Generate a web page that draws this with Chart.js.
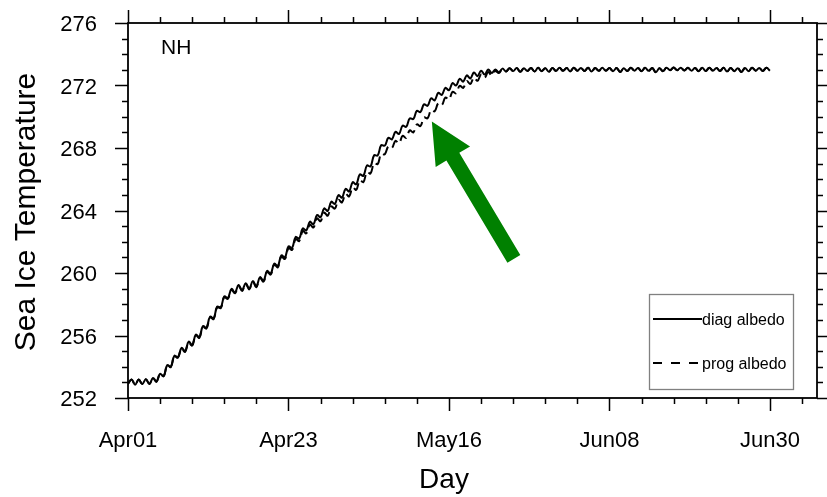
<!DOCTYPE html>
<html>
<head>
<meta charset="utf-8">
<script src="https://cdn.jsdelivr.net/npm/chart.js@4.4.0/dist/chart.umd.min.js"></script>
<style>
  html, body { margin: 0; padding: 0; background: #fff; }
  #wrap { width: 827px; height: 497px; }
</style>
</head>
<body>
<div id="wrap"><canvas id="c" width="827" height="497"></canvas></div>
<script>
// two samples per day (night / day), day 0 = Apr01
const STEP_DAYS = 0.5;

const diagAlbedo = [
  252.90, 253.18, 252.85, 253.18, 252.90, 253.20, 252.90, 253.28, 253.05, 253.55,
  253.40, 254.10, 254.00, 254.70, 254.60, 255.20, 255.00, 255.60, 255.40, 256.05,
  255.90, 256.60, 256.50, 257.20, 257.10, 257.85, 257.80, 258.50, 258.40, 258.98,
  258.75, 259.23, 258.90, 259.35, 259.00, 259.48, 259.15, 259.73, 259.50, 260.13,
  259.95, 260.60, 260.45, 261.13, 261.00, 261.70, 261.60, 262.30, 262.20, 262.85,
  262.72, 263.28, 263.12, 263.71, 263.57, 264.13, 263.97, 264.56, 264.42, 264.98,
  264.82, 265.38, 265.22, 265.81, 265.67, 266.31, 266.22, 266.88, 266.82, 267.53,
  267.52, 268.18, 268.15, 268.65, 268.55, 269.03, 268.90, 269.43, 269.35, 269.90,
  269.85, 270.38, 270.30, 270.80, 270.70, 271.18, 271.05, 271.53, 271.40, 271.85,
  271.70, 272.15, 272.00, 272.43, 272.25, 272.65, 272.45, 272.83, 272.60, 272.95,
  272.70, 273.03, 272.80, 273.03, 272.85, 273.08, 272.90, 273.10, 272.92, 273.12,
  272.88, 273.10, 272.93, 273.12, 272.90, 273.13, 272.92, 273.10, 272.88, 273.12,
  272.93, 273.13, 272.94, 273.12, 272.90, 273.14, 272.95, 273.12, 272.93, 273.13,
  272.90, 273.12, 272.94, 273.13, 272.95, 273.12, 272.92, 273.12, 272.86, 273.10,
  272.93, 273.13, 272.95, 273.12, 272.92, 273.13, 272.94, 273.12, 272.85, 273.10,
  272.92, 273.14, 272.97, 273.15, 272.98, 273.14, 272.96, 273.13, 272.95, 273.12,
  272.92, 273.13, 272.93, 273.14, 272.95, 273.12, 272.93, 273.13, 272.90, 273.12,
  272.92, 273.11, 272.86, 273.12, 272.92, 273.13, 272.95, 273.12, 272.93, 273.13,
  272.94
];

const progAlbedo = [
  252.90, 253.18, 252.85, 253.18, 252.90, 253.20, 252.90, 253.28, 253.05, 253.55,
  253.40, 254.08, 253.98, 254.68, 254.58, 255.17, 254.95, 255.55, 255.35, 256.00,
  255.85, 256.55, 256.45, 257.15, 257.05, 257.80, 257.75, 258.45, 258.35, 258.93,
  258.70, 259.18, 258.85, 259.30, 258.95, 259.43, 259.10, 259.68, 259.45, 260.08,
  259.90, 260.53, 260.37, 261.04, 260.90, 261.59, 261.48, 262.17, 262.05, 262.69,
  262.54, 263.09, 262.92, 263.49, 263.32, 263.86, 263.67, 264.26, 264.12, 264.68,
  264.52, 265.07, 264.90, 265.48, 265.32, 265.94, 265.82, 266.46, 266.37, 267.03,
  266.97, 267.63, 267.60, 268.10, 268.00, 268.46, 268.30, 268.78, 268.65, 269.13,
  269.00, 269.51, 269.40, 269.95, 269.90, 270.43, 270.35, 270.86, 270.75, 271.23,
  271.10, 271.60, 271.50, 271.98, 271.85, 272.28, 272.10, 272.51, 272.30, 272.70,
  272.50, 272.86, 272.65, 272.93, 272.80, 273.06, 272.90, 273.10, 272.92, 273.12,
  272.88, 273.10, 272.93, 273.12, 272.90, 273.13, 272.92, 273.10, 272.88, 273.12,
  272.93, 273.13, 272.94, 273.12, 272.90, 273.14, 272.95, 273.12, 272.93, 273.13,
  272.90, 273.12, 272.94, 273.13, 272.95, 273.12, 272.92, 273.12, 272.86, 273.10,
  272.93, 273.13, 272.95, 273.12, 272.92, 273.13, 272.94, 273.12, 272.85, 273.10,
  272.92, 273.14, 272.97, 273.15, 272.98, 273.14, 272.96, 273.13, 272.95, 273.12,
  272.92, 273.13, 272.93, 273.14, 272.95, 273.12, 272.93, 273.13, 272.90, 273.12,
  272.92, 273.11, 272.86, 273.12, 272.92, 273.13, 272.95, 273.12, 272.93, 273.13,
  272.94
];

const seriesNames = ['diag albedo', 'prog albedo'];
const xTickDays = [0, 22.5, 45, 67.5, 90];
const xTickLabels = ['Apr01', 'Apr23', 'May16', 'Jun08', 'Jun30'];
const yTickValues = [252, 256, 260, 264, 268, 272, 276];
const X_MIN = 0, X_MAX = 96.6, X_MINOR = 4.5;
const Y_MIN = 252, Y_MAX = 276, Y_MINOR = 1;
const panelLabel = 'NH';
const xTitle = 'Day';
const yTitle = 'Sea Ice Temperature';
// green arrow, in data units (day, K)
const arrowTail = { x: 54.1, y: 260.9 };
const arrowTip = { x: 42.6, y: 269.7 };

const FONT = '"Liberation Sans", Arial, Helvetica, sans-serif';

function toPoints(arr){ return arr.map((v,i)=>({ x: i*STEP_DAYS, y: v })); }

const nclFrame = {
  id: 'nclFrame',
  afterDraw(chart){
    const ctx = chart.ctx;
    const a = chart.chartArea;
    const xs = chart.scales.x, ys = chart.scales.y;
    ctx.save();

    // frame
    ctx.strokeStyle = '#000';
    ctx.lineWidth = 1.8;
    ctx.strokeRect(a.left, a.top, a.right - a.left, a.bottom - a.top);

    // x ticks, bottom and top, outward
    ctx.lineWidth = 1.5;
    ctx.beginPath();
    for(let k=0; k*X_MINOR <= X_MAX + 1e-6; k++){
      const px = Math.round(xs.getPixelForValue(k*X_MINOR)) + 0.5;
      const len = (k % 5 === 0) ? 13 : 6;
      ctx.moveTo(px, a.bottom); ctx.lineTo(px, a.bottom + len);
      ctx.moveTo(px, a.top); ctx.lineTo(px, a.top - len);
    }
    // y ticks, left and right, outward
    for(let v=Y_MIN; v<=Y_MAX; v+=Y_MINOR){
      const py = Math.round(ys.getPixelForValue(v)) + 0.5;
      const len = ((v - Y_MIN) % 4 === 0) ? 13 : 6;
      ctx.moveTo(a.left, py); ctx.lineTo(a.left - len, py);
      ctx.moveTo(a.right, py); ctx.lineTo(a.right + len, py);
    }
    ctx.stroke();

    // tick labels
    ctx.fillStyle = '#000';
    ctx.font = '22px ' + FONT;
    ctx.textBaseline = 'alphabetic';
    ctx.textAlign = 'center';
    xTickDays.forEach((d,i)=>{
      ctx.fillText(xTickLabels[i], xs.getPixelForValue(d), 447);
    });
    ctx.textAlign = 'right';
    yTickValues.forEach(v=>{
      ctx.fillText(String(v), 97, ys.getPixelForValue(v) + 8);
    });

    // axis titles
    ctx.font = '28px ' + FONT;
    ctx.textAlign = 'center';
    ctx.fillText(xTitle, 444, 488);
    ctx.save();
    ctx.font = '30px ' + FONT;
    ctx.translate(35, 212);
    ctx.rotate(-Math.PI/2);
    ctx.fillText(yTitle, 0, 0);
    ctx.restore();

    // panel label
    ctx.font = '21px ' + FONT;
    ctx.textAlign = 'left';
    ctx.fillText(panelLabel, 161, 54);

    // legend
    ctx.fillStyle = '#fff';
    ctx.fillRect(649, 294, 144, 95);
    ctx.strokeStyle = '#808080';
    ctx.lineWidth = 1.3;
    ctx.strokeRect(649.5, 294.5, 144, 95);
    ctx.strokeStyle = '#000';
    ctx.lineWidth = 2;
    ctx.beginPath(); ctx.moveTo(653, 319); ctx.lineTo(702, 319); ctx.stroke();
    ctx.setLineDash([9, 9]);
    ctx.beginPath(); ctx.moveTo(653, 363); ctx.lineTo(702, 363); ctx.stroke();
    ctx.setLineDash([]);
    ctx.fillStyle = '#000';
    ctx.font = '16px ' + FONT;
    ctx.fillText(seriesNames[0], 702, 325);
    ctx.fillText(seriesNames[1], 702, 369);

    // arrow
    const tx = xs.getPixelForValue(arrowTail.x), ty = ys.getPixelForValue(arrowTail.y);
    const hx = xs.getPixelForValue(arrowTip.x), hy = ys.getPixelForValue(arrowTip.y);
    const dx = hx - tx, dy = hy - ty, L = Math.hypot(dx, dy);
    const ux = dx/L, uy = dy/L, nx = -uy, ny = ux;
    const headLen = 41, headHalf = 20, shaftHalf = 7.5;
    const bx = hx - ux*headLen, by = hy - uy*headLen;
    ctx.fillStyle = '#008000';
    ctx.beginPath();
    ctx.moveTo(tx + nx*shaftHalf, ty + ny*shaftHalf);
    ctx.lineTo(bx + nx*shaftHalf, by + ny*shaftHalf);
    ctx.lineTo(bx + nx*headHalf, by + ny*headHalf);
    ctx.lineTo(hx, hy);
    ctx.lineTo(bx - nx*headHalf, by - ny*headHalf);
    ctx.lineTo(bx - nx*shaftHalf, by - ny*shaftHalf);
    ctx.lineTo(tx - nx*shaftHalf, ty - ny*shaftHalf);
    ctx.closePath();
    ctx.fill();

    ctx.restore();
  }
};

new Chart(document.getElementById('c').getContext('2d'), {
  type: 'line',
  data: {
    datasets: [
      { label: seriesNames[0], data: toPoints(diagAlbedo), borderColor: '#000', borderWidth: 2,
        pointRadius: 0, tension: 0.4, fill: false },
      { label: seriesNames[1], data: toPoints(progAlbedo), borderColor: '#000', borderWidth: 2,
        borderDash: [10, 5], pointRadius: 0, tension: 0.4, fill: false }
    ]
  },
  options: {
    responsive: false,
    animation: false,
    devicePixelRatio: 1,
    layout: { padding: { top: 23, right: 10, left: 0, bottom: 0 } },
    plugins: { legend: { display: false }, tooltip: { enabled: false } },
    scales: {
      x: { type: 'linear', min: X_MIN, max: X_MAX, ticks: { display: false },
           grid: { display: false }, border: { display: false },
           afterFit: s => { s.height = 99; } },
      y: { type: 'linear', min: Y_MIN, max: Y_MAX, ticks: { display: false },
           grid: { display: false }, border: { display: false },
           afterFit: s => { s.width = 128; } }
    }
  },
  plugins: [nclFrame]
});
</script>
</body>
</html>
